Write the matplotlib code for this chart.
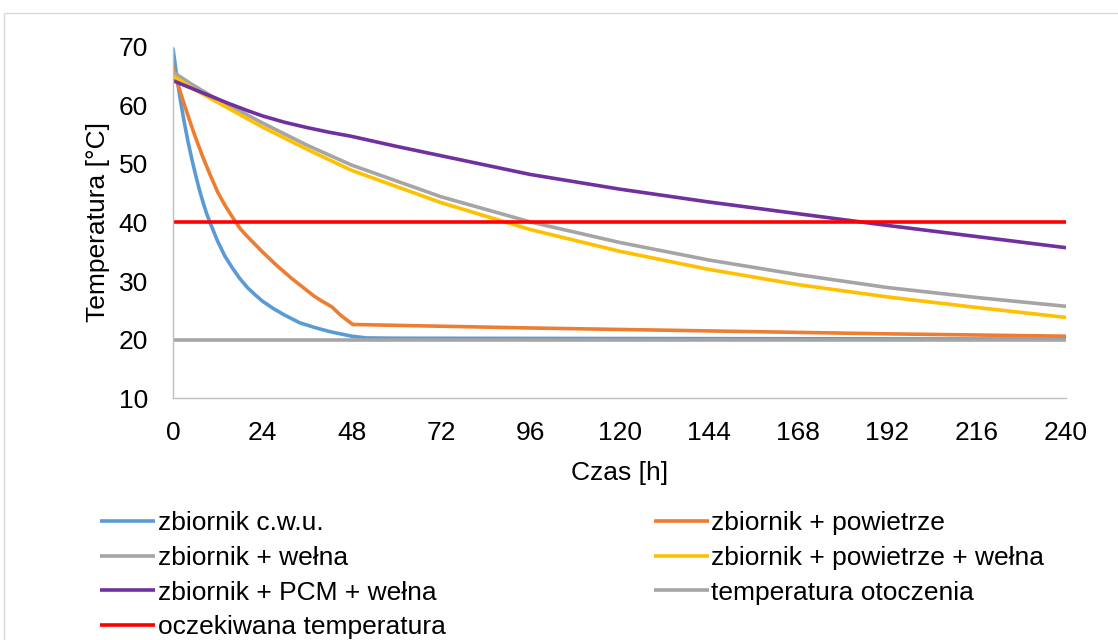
import matplotlib
matplotlib.use("Agg")
import matplotlib.pyplot as plt
from matplotlib.patches import Rectangle

plt.rcParams['font.family'] = ['Liberation Sans', 'DejaVu Sans']

# --- data (hours, °C) ---
t_cwu = [0, 1, 2, 3, 4, 5, 6, 7, 8, 9, 10, 12, 14, 16, 18, 20, 22, 24, 27, 30, 34, 38, 42, 45, 48, 52, 60, 240]
T_cwu = [69.7, 65.0, 60.8, 57.2, 53.9, 51.0, 48.3, 45.8, 43.6, 41.6, 39.9, 36.8, 34.2, 32.2, 30.4, 28.9,
         27.7, 26.6, 25.3, 24.2, 22.9, 22.1, 21.4, 21.0, 20.6, 20.3, 20.25, 20.1]

t_pow = [0, 1, 2, 3, 4, 5, 6, 8, 10, 12, 14, 16, 18, 20, 22, 24, 26, 28, 30, 32, 34, 36, 38, 40, 42.7,
         45, 48.3, 56, 96, 144, 192, 240]
T_pow = [66.7, 64.3, 62.2, 60.2, 58.3, 56.4, 54.6, 51.2, 48.1, 45.2, 42.9, 40.9, 39.0, 37.6, 36.3, 35.0,
         33.8, 32.6, 31.5, 30.4, 29.4, 28.4, 27.4, 26.6, 25.6, 24.2, 22.6, 22.5, 22.0, 21.5, 21.0, 20.6]

t_long = [0, 5, 10, 24, 36, 48, 72, 96, 120, 144, 168, 192, 216, 240]
T_welna = [65.7, 63.6, 61.7, 57.0, 53.2, 49.8, 44.4, 40.1, 36.6, 33.6, 31.1, 28.9, 27.2, 25.7]
T_pow_welna = [65.0, 63.0, 61.2, 56.3, 52.5, 48.9, 43.4, 38.8, 35.1, 32.0, 29.4, 27.3, 25.5, 23.8]

t_pcm = [0, 5, 10, 15, 20, 24, 30, 36, 42, 48, 60, 72, 96, 120, 144, 168, 192, 216, 240]
T_pcm = [64.2, 62.9, 61.6, 60.3, 59.1, 58.2, 57.1, 56.2, 55.4, 54.7, 53.0, 51.4, 48.2, 45.7, 43.5, 41.5,
         39.5, 37.6, 35.7]

t_const = [0, 240]
T_otoczenie = [20, 20]
T_oczekiwana = [40, 40]

labels = ["zbiornik c.w.u.", "zbiornik + powietrze", "zbiornik + wełna",
          "zbiornik + powietrze + wełna", "zbiornik + PCM + wełna",
          "temperatura otoczenia", "oczekiwana temperatura"]
x_ticks = [0, 24, 48, 72, 96, 120, 144, 168, 192, 216, 240]
y_ticks = [10, 20, 30, 40, 50, 60, 70]

colors = ["#5B9BD5", "#ED7D31", "#A5A5A5", "#FFC000", "#7030A0", "#A5A5A5", "#FF0000"]

W, H = 1118, 640
fig = plt.figure(figsize=(W / 100, H / 100), dpi=100)
ax = fig.add_axes([173 / W, 1 - 398.3 / H, (1066 - 173) / W, (398.3 - 46.7) / H])

lw = 2.6
series = [
    (t_cwu, T_cwu), (t_pow, T_pow), (t_long, T_welna), (t_long, T_pow_welna),
    (t_pcm, T_pcm), (t_const, T_otoczenie), (t_const, T_oczekiwana)
]
handles = []
for (tx, ty), c, lab in zip(series, colors, labels):
    h, = ax.plot(tx, ty, color=c, lw=lw, label=lab, solid_capstyle='butt', solid_joinstyle='round')
    handles.append(h)

ax.set_xlim(0, 240)
ax.set_ylim(10, 70)
ax.set_xticks(x_ticks)
ax.set_yticks(y_ticks)
ax.tick_params(axis='both', length=0, labelsize=19, colors='#000000')
ax.tick_params(axis='y', pad=18)
ax.tick_params(axis='x', pad=16)
for s in ['top', 'right']:
    ax.spines[s].set_visible(False)
for s in ['left', 'bottom']:
    ax.spines[s].set_color('#BFBFBF')
    ax.spines[s].set_linewidth(1.0)
ax.set_xlabel("Czas [h]", fontsize=19, labelpad=12)
ax.set_ylabel("Temperatura [°C]", fontsize=19, labelpad=6)

order = [0, 2, 4, 6, 1, 3, 5]
leg = fig.legend([handles[i] for i in order], [labels[i] for i in order],
                 loc='upper left', bbox_to_anchor=(100 / W, 1 - 511 / H),
                 ncol=2, frameon=False, fontsize=19, handlelength=2.1,
                 handletextpad=0.08, columnspacing=7.9, labelspacing=0.41,
                 borderpad=0, borderaxespad=0)

fig.patches.append(Rectangle((4 / W, -0.1), 1.2, (1 - 13 / H) + 0.1, transform=fig.transFigure,
                             fill=False, edgecolor='#D9D9D9', lw=1.0))

fig.savefig("out.png", dpi=100)
